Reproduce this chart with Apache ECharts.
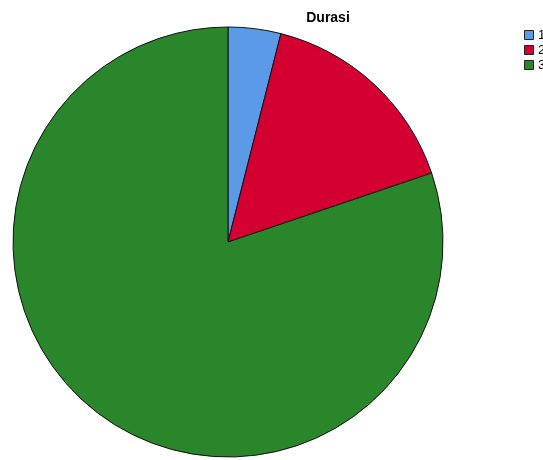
<!DOCTYPE html>
<html><head><meta charset="utf-8">
<script src="https://cdn.jsdelivr.net/npm/echarts@6/dist/echarts.min.js"></script>
<style>html,body{margin:0;padding:0;background:#fff}#c{width:543px;height:460px}</style>
</head><body><div id="c"></div>
<script>
const categories = ['1', '2', '3'];
const values = [4, 16, 81];
const colors = ['#5a9ae6', '#d50032', '#2a862a'];
const chart = echarts.init(document.getElementById('c'));
const legendItems = [];
categories.forEach((c, i) => {
  const y = 30 + i * 15;
  legendItems.push({ type: 'rect', shape: { x: 524.5, y: y + 0.5, width: 9, height: 9 },
    style: { fill: colors[i], stroke: '#222', lineWidth: 1 } });
  legendItems.push({ type: 'text', x: 538, y: y + 5, style: { text: c, fill: '#000',
    font: '13px "Liberation Sans"', textVerticalAlign: 'middle', verticalAlign: 'middle' } });
});
chart.setOption({
  animation: false,
  title: { text: 'Durasi', left: 323, top: 6, textAlign: 'center',
    textStyle: { fontFamily: 'Liberation Sans', fontSize: 14, fontWeight: 'bold', color: '#000' } },
  graphic: legendItems,
  series: [{
    type: 'pie', center: [228, 242], radius: 215, startAngle: 90, clockwise: true,
    label: { show: false }, labelLine: { show: false }, emphasis: { disabled: true },
    itemStyle: { borderColor: '#111', borderWidth: 1 },
    data: categories.map((c, i) => ({ name: c, value: values[i], itemStyle: { color: colors[i] } }))
  }]
});
</script></body></html>
